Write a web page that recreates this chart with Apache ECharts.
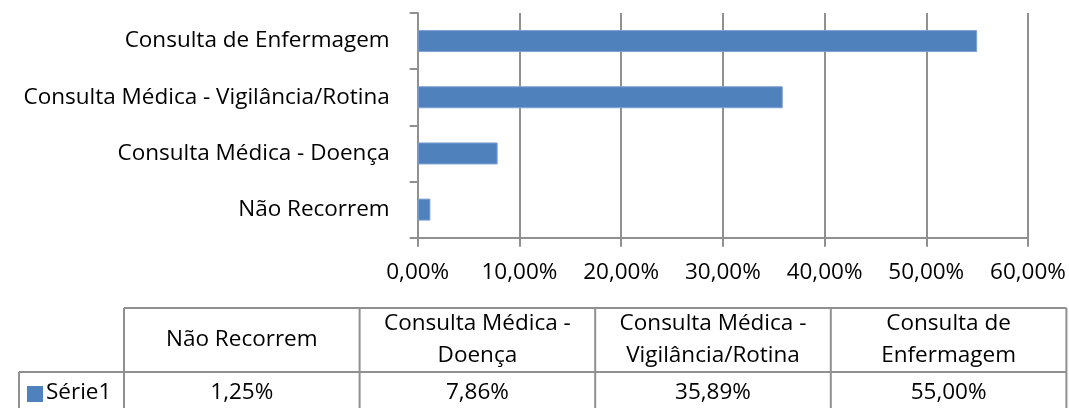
<!DOCTYPE html>
<html>
<head>
<meta charset="utf-8">
<script src="https://cdn.jsdelivr.net/npm/echarts@6/dist/echarts.min.js"></script>
<style>
  html, body { margin: 0; padding: 0; background: #fff; }
  #main { width: 1069px; height: 408px; }
</style>
</head>
<body>
<div id="main"></div>
<script>
var categories = ['Não Recorrem', 'Consulta Médica - Doença', 'Consulta Médica - Vigilância/Rotina', 'Consulta de Enfermagem'];
var tableHeaders = ['Não Recorrem', 'Consulta Médica -\nDoença', 'Consulta Médica -\nVigilância/Rotina', 'Consulta de\nEnfermagem'];
var seriesName = 'Série1';
var values = [0.0125, 0.0786, 0.3589, 0.55];

var FONT = 'Open Sans';
var FS = 22.5;
var lineCol = '#909090';
var barCol = '#4F81BD';

function pct(v) {
    return (v * 100).toFixed(2).replace('.', ',') + '%';
}

var myChart = echarts.init(document.getElementById('main'));

// data table under the chart
var tLeft = 124, colW = 235.6, tTop = 308, tMid = 372, tBot = 410, keyLeft = 19;
var graphics = [];
function line(x1, y1, x2, y2) {
    graphics.push({
        type: 'line',
        shape: { x1: x1, y1: y1, x2: x2, y2: y2 },
        style: { stroke: lineCol, lineWidth: 2 }
    });
}
var tRight = tLeft + colW * categories.length;
line(tLeft, tTop, tRight, tTop);
line(keyLeft, tMid, tRight, tMid);
line(keyLeft, tBot, tRight, tBot);
line(keyLeft, tMid, keyLeft, tBot);
for (var i = 0; i <= categories.length; i++) {
    line(tLeft + colW * i, tTop, tLeft + colW * i, tBot);
}
tableHeaders.forEach(function (h, i) {
    graphics.push({
        type: 'text',
        x: tLeft + colW * (i + 0.5),
        y: (tTop + tMid) / 2,
        style: {
            text: h, fill: '#000', font: FS + 'px ' + FONT,
            align: 'center', verticalAlign: 'middle', lineHeight: 32
        }
    });
    graphics.push({
        type: 'text',
        x: tLeft + colW * (i + 0.5),
        y: 393,
        style: {
            text: pct(values[i]), fill: '#000', font: FS + 'px ' + FONT,
            align: 'center', verticalAlign: 'middle'
        }
    });
});
graphics.push({
    type: 'rect',
    shape: { x: 27, y: 386, width: 16, height: 16 },
    style: { fill: barCol }
});
graphics.push({
    type: 'text',
    x: 46,
    y: 393,
    style: {
        text: seriesName, fill: '#000', font: FS + 'px ' + FONT,
        align: 'left', verticalAlign: 'middle'
    }
});

option = {
    animation: false,
    textStyle: { fontFamily: FONT },
    grid: {
        left: 417.7,
        right: 41,
        top: 13,
        bottom: 170.3,
        containLabel: false
    },
    xAxis: {
        type: 'value',
        min: 0,
        max: 0.6,
        interval: 0.1,
        axisLine: { show: true, lineStyle: { color: lineCol, width: 2 } },
        axisTick: { show: true, length: 9, lineStyle: { color: lineCol, width: 2 } },
        splitLine: { show: true, lineStyle: { color: lineCol, width: 2 } },
        axisLabel: {
            margin: 23,
            fontSize: FS,
            color: '#000',
            fontFamily: FONT,
            formatter: pct
        }
    },
    yAxis: {
        type: 'category',
        data: categories,
        axisLine: { show: true, lineStyle: { color: lineCol, width: 2 } },
        axisTick: { show: true, length: 8, lineStyle: { color: lineCol, width: 2 } },
        axisLabel: {
            margin: 28,
            fontSize: FS,
            color: '#000',
            fontFamily: FONT
        }
    },
    series: [{
        name: seriesName,
        type: 'bar',
        data: values,
        barWidth: 22,
        itemStyle: { color: barCol, borderColor: '#7EA1D3', borderWidth: 1 }
    }],
    graphic: graphics
};

myChart.setOption(option);
</script>
</body>
</html>
